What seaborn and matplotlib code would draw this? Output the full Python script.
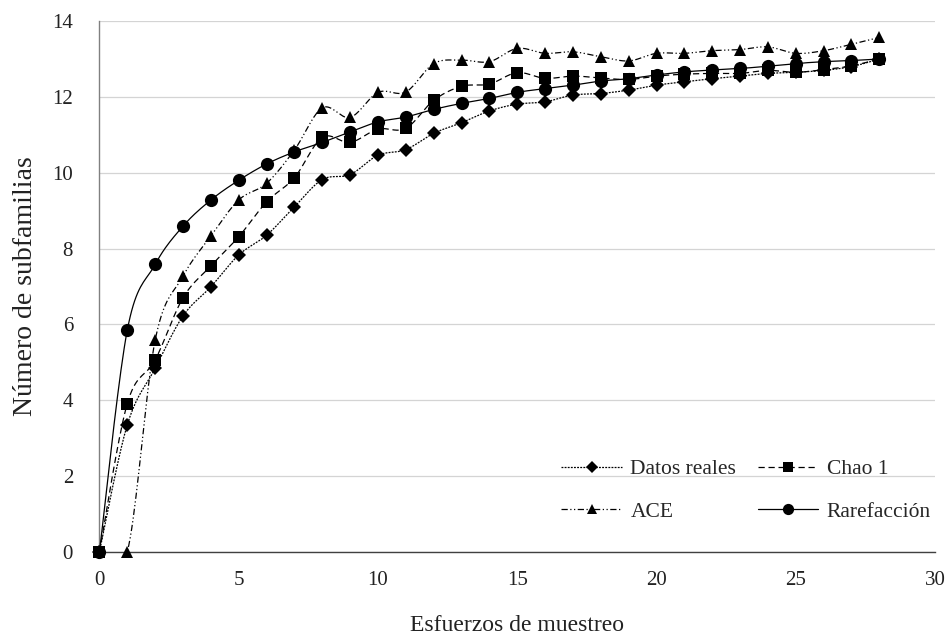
import numpy as np
import pandas as pd
import matplotlib
matplotlib.use("Agg")
import matplotlib.pyplot as plt
from matplotlib.lines import Line2D
import seaborn as sns

esfuerzos = list(range(0, 29))
datos_reales = [0, 3.35, 4.84, 6.22, 6.99, 7.83, 8.35, 9.10, 9.82, 9.95, 10.46, 10.61, 11.04, 11.32,
                11.63, 11.81, 11.87, 12.05, 12.09, 12.18, 12.31, 12.40, 12.48, 12.55, 12.62, 12.65,
                12.70, 12.80, 13.0]
chao1 = [0, 3.91, 5.06, 6.70, 7.54, 8.31, 9.23, 9.87, 10.93, 10.80, 11.15, 11.17, 11.91, 12.28,
         12.34, 12.64, 12.49, 12.55, 12.50, 12.46, 12.55, 12.60, 12.62, 12.62, 12.70, 12.65,
         12.72, 12.82, 13.0]
ace = [0, 0, 5.58, 7.27, 8.33, 9.28, 9.72, 10.60, 11.71, 11.46, 12.12, 12.13, 12.88, 12.97,
       12.93, 13.28, 13.15, 13.19, 13.06, 12.95, 13.15, 13.15, 13.22, 13.25, 13.32, 13.15,
       13.22, 13.39, 13.57]
rarefaccion = [0, 5.85, 7.58, 8.59, 9.28, 9.80, 10.23, 10.55, 10.80, 11.08, 11.34, 11.47, 11.67,
               11.83, 11.96, 12.12, 12.22, 12.31, 12.42, 12.48, 12.58, 12.66, 12.71, 12.75, 12.81,
               12.88, 12.93, 12.96, 13.0]

series_names = ["Datos reales", "Chao 1", "ACE", "Rarefacción"]
x_ticks = [0, 5, 10, 15, 20, 25, 30]
y_ticks = [0, 2, 4, 6, 8, 10, 12, 14]

sns.set_theme(style="white")
plt.rcParams["font.family"] = ["Liberation Serif", "DejaVu Serif"]

fig = plt.figure(figsize=(9.49, 6.4), dpi=100)
ax = fig.add_axes([0.1048, 0.138, 0.8805, 0.829])


def smooth(x, y, n=20):
    # Excel-style smoothed line (Bezier with 1/6 tension)
    x = np.asarray(x, float)
    y = np.asarray(y, float)
    P = np.column_stack([x, y])
    out = []
    m = len(P)
    for i in range(m - 1):
        p0 = P[i - 1] if i > 0 else P[i]
        p1 = P[i]
        p2 = P[i + 1]
        p3 = P[i + 2] if i + 2 < m else P[i + 1]
        c1 = p1 + (p2 - p0) / 6.0
        c2 = p2 - (p3 - p1) / 6.0
        t = np.linspace(0, 1, n)[:, None]
        seg = ((1 - t) ** 3) * p1 + 3 * ((1 - t) ** 2) * t * c1 + 3 * (1 - t) * t ** 2 * c2 + t ** 3 * p2
        out.append(seg if i == 0 else seg[1:])
    S = np.vstack(out)
    return S[:, 0], S[:, 1]


styles = {
    "Datos reales": dict(marker="D", ms=7, dash=(1.5, 1.0)),
    "Chao 1": dict(marker="s", ms=8.5, dash=(5, 3)),
    "ACE": dict(marker="^", ms=9, dash=(5, 2, 1, 2, 1, 2)),
    "Rarefacción": dict(marker="o", ms=9.5, dash=None),
}
values = {"Datos reales": datos_reales, "Chao 1": chao1, "ACE": ace, "Rarefacción": rarefaccion}

df = pd.DataFrame({"x": esfuerzos * 4,
                   "y": datos_reales + chao1 + ace + rarefaccion,
                   "serie": sum([[n] * len(esfuerzos) for n in series_names], [])})

handles = {}
for name in series_names:
    st = styles[name]
    sx, sy = smooth(esfuerzos, values[name])
    ls = "-" if st["dash"] is None else (0, st["dash"])
    ax.plot(sx, sy, color="black", lw=0.9, linestyle=ls, zorder=3, clip_on=True)
    sub = df[df["serie"] == name]
    n_before = len(ax.lines)
    sns.lineplot(data=sub, x="x", y="y", ax=ax, color="black", linestyle="",
                 marker=st["marker"], markersize=st["ms"], markeredgewidth=0, zorder=4)
    for ln in ax.lines[n_before:]:
        ln.set_clip_on(False)
    handles[name] = Line2D([0], [0], color="black", lw=0.9, linestyle=ls,
                           marker=st["marker"], markersize=st["ms"] * 0.85, markeredgewidth=0)

ax.set_xlim(0, 30)
ax.set_ylim(0, 14)
ax.set_xticks(x_ticks)
ax.set_yticks(y_ticks)
ax.tick_params(axis="both", labelsize=15, length=0, colors="#222222")
ax.tick_params(axis="x", pad=14)
ax.tick_params(axis="y", pad=19)
ax.yaxis.grid(True, color="#d4d4d4", lw=0.9)
ax.xaxis.grid(False)
for s in ["top", "right"]:
    ax.spines[s].set_visible(False)
ax.spines["left"].set_color("#808080")
ax.spines["bottom"].set_color("#404040")
ax.spines["left"].set_linewidth(1.0)
ax.spines["bottom"].set_linewidth(1.0)

ax.set_xlabel("Esfuerzos de muestreo", fontsize=17, labelpad=18, color="#222222")
ax.set_ylabel("Número de subfamilias", fontsize=20, labelpad=10, color="#222222")

# column-major order so rows read: Datos reales, Chao 1 / ACE, Rarefacción
order = ["Datos reales", "ACE", "Chao 1", "Rarefacción"]
leg = ax.legend([handles[n] for n in order], order, ncol=2, loc="upper left",
                bbox_to_anchor=(0.54, 0.195), borderpad=0, frameon=False, fontsize=15.5,
                handlelength=2.8, columnspacing=1.0, labelspacing=1.05, handletextpad=0.4)

fig.savefig("out.png", dpi=100)
